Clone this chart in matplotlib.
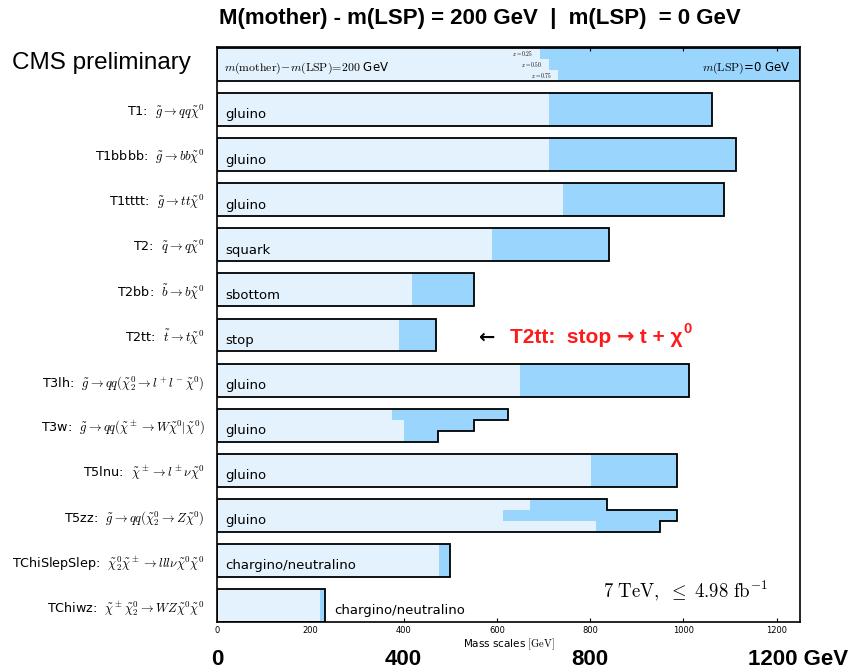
import numpy as np
import matplotlib
matplotlib.use("Agg")
import matplotlib.pyplot as plt
from matplotlib.patches import Rectangle, Polygon
from matplotlib.transforms import offset_copy

plt.rcParams['mathtext.fontset'] = 'cm'
plt.rcParams['font.family'] = ['DejaVu Sans']

# model names, decay strings, particle labels
models = ["T1", "T1bbbb", "T1tttt", "T2", "T2bb", "T2tt", "T3lh", "T3w",
          "T5lnu", "T5zz", "TChiSlepSlep", "TChiwz"]
decays = [r"$\tilde{g}\rightarrow qq\tilde{\chi}^0$",
          r"$\tilde{g}\rightarrow bb\tilde{\chi}^0$",
          r"$\tilde{g}\rightarrow tt\tilde{\chi}^0$",
          r"$\tilde{q}\rightarrow q\tilde{\chi}^0$",
          r"$\tilde{b}\rightarrow b\tilde{\chi}^0$",
          r"$\tilde{t}\rightarrow t\tilde{\chi}^0$",
          r"$\tilde{g}\rightarrow qq(\tilde{\chi}^0_2\rightarrow l^+l^-\tilde{\chi}^0)$",
          r"$\tilde{g}\rightarrow qq(\tilde{\chi}^\pm\rightarrow W\tilde{\chi}^0|\tilde{\chi}^0)$",
          r"$\tilde{\chi}^\pm\rightarrow l^\pm\nu\tilde{\chi}^0$",
          r"$\tilde{g}\rightarrow qq(\tilde{\chi}^0_2\rightarrow Z\tilde{\chi}^0)$",
          r"$\tilde{\chi}^0_2\tilde{\chi}^\pm\rightarrow lll\nu\tilde{\chi}^0\tilde{\chi}^0$",
          r"$\tilde{\chi}^\pm\tilde{\chi}^0_2\rightarrow WZ\tilde{\chi}^0\tilde{\chi}^0$"]
particles = ["gluino", "gluino", "gluino", "squark", "sbottom", "stop", "gluino",
             "gluino", "gluino", "gluino", "chargino/neutralino", "chargino/neutralino"]

# limits in GeV: light = m(mother)-m(LSP)=200, dark = m(LSP)=0
# (three entries = x=0.25, 0.50, 0.75)
limit_dm200 = [[712], [712], [742], [589], [418], [391], [650],
               [375, 401, 401], [802], [672, 614, 813], [476], [220]]
limit_lsp0 = [[1061], [1113], [1087], [840], [550], [469], [1011],
              [624, 551, 474], [987], [837, 987, 950], [500], [231]]

# header strip
header_dm200 = [692, 712, 731]
header_x = ["x=0.25", "x=0.50", "x=0.75"]

xmax = 1250
light = "#e3f2fd"
dark = "#99d5fc"
bar_h = 0.73

fig = plt.figure(figsize=(8.5, 6.72), dpi=100)
ax = fig.add_axes([0.2553, 0.0744, 0.6859, 0.8556])


def draw_row(y, dm200, lsp0, outline=True):
    n = len(dm200)
    sub = bar_h / n
    top = y - bar_h / 2
    for k in range(n):
        y0 = top + k * sub
        ax.add_patch(Rectangle((0, y0), lsp0[k], sub, facecolor=dark, edgecolor="none", zorder=1))
        ax.add_patch(Rectangle((0, y0), dm200[k], sub, facecolor=light, edgecolor="none", zorder=2))
    if outline:
        pts = [(0, top)]
        for k in range(n):
            pts.append((lsp0[k], top + k * sub))
            pts.append((lsp0[k], top + (k + 1) * sub))
        pts.append((0, top + bar_h))
        ax.add_patch(Polygon(pts, closed=True, fill=False, edgecolor="black", lw=1.3, zorder=3))


# header row
draw_row(0, header_dm200, [xmax] * 3)
for k, (v, s) in enumerate(zip(header_dm200, header_x)):
    yy = -bar_h / 2 + (k + 0.5) * bar_h / 3
    ax.text(v - 14, yy, "$" + s + "$", fontsize=4, ha="right", va="center", zorder=4)
ax.text(15, 0.08, r"$m(\mathrm{mother})\!-\!m(\mathrm{LSP})\!=\!200$ GeV", fontsize=8.5,
        va="center", ha="left", zorder=4)
ax.text(xmax - 20, 0.08, r"$m(\mathrm{LSP})$=0 GeV", fontsize=8.5, va="center", ha="right", zorder=4)

for i in range(len(models)):
    y = i + 1
    draw_row(y, limit_dm200[i], limit_lsp0[i])
    xt = 17 if max(limit_lsp0[i]) > 300 else max(limit_lsp0[i]) + 20
    ax.text(xt, y + 0.12, particles[i], fontsize=9.5, va="center", ha="left", zorder=4)

ax.set_xlim(0, xmax)
ax.set_ylim(len(models) + bar_h / 2, -bar_h / 2 - 0.02)
ax.set_xticks(np.arange(0, 1201, 200))
ax.tick_params(axis="x", labelsize=6, direction="in", top=True, length=3, pad=3)
ax.set_yticks(np.arange(1, len(models) + 1))
ax.set_yticklabels([m + ":  " + d for m, d in zip(models, decays)], fontsize=9.2)
ax.tick_params(axis="y", length=0, pad=9)
ax.set_xlabel(r"Mass scales $[\mathrm{GeV}]$", fontsize=7.5, labelpad=1)
for sp in ax.spines.values():
    sp.set_linewidth(1.2)

ax.text(1182, 11.68, r"$\mathrm{7\ TeV,\ \leq\ 4.98\ fb^{-1}}$", fontsize=13.5, ha="right", va="center")

# annotation for T2tt, built from pieces
ax.text(560, 6.05, "\u2190", fontsize=14, fontweight="bold", ha="left", va="center",
        family=["DejaVu Sans"])
red = "#ff1a1a"
pieces = [("T2tt:  stop ", 15, ["Liberation Sans"], 0),
          ("\u2192", 15, ["DejaVu Sans"], 0),
          (" t + \u03c7", 15, ["Liberation Sans"], 0),
          ("0", 10.5, ["Liberation Sans"], 8)]
renderer = fig.canvas.get_renderer()
dx = 0
for s, fs, fam, rise in pieces:
    tr = offset_copy(ax.transData, fig=fig, x=dx, y=rise, units="dots")
    t = ax.text(628, 6.05, s, transform=tr, fontsize=fs, fontweight="bold", color=red,
                ha="left", va="center", family=fam)
    dx += t.get_window_extent(renderer).width

# outer labels
fig.text(0.565, 0.972, "M(mother) - m(LSP) = 200 GeV  |  m(LSP)  = 0 GeV", fontsize=16,
         fontweight="bold", ha="center", va="center", family=["Liberation Sans"])
fig.text(0.014, 0.906, "CMS preliminary", fontsize=17.5, ha="left", va="center", family=["Liberation Sans"])
for v in [0, 400, 800]:
    ax.text(v, -0.066, str(v), transform=ax.get_xaxis_transform(), fontsize=16, fontweight="bold",
            ha="center", va="center", family=["Liberation Sans"])
ax.annotate("1200 GeV", xy=(1200, -0.066), xycoords=ax.get_xaxis_transform(), xytext=(-29, 0),
            textcoords="offset pixels", fontsize=16, fontweight="bold", ha="left", va="center",
            family=["Liberation Sans"], annotation_clip=False)

fig.savefig("out.png", dpi=100)
